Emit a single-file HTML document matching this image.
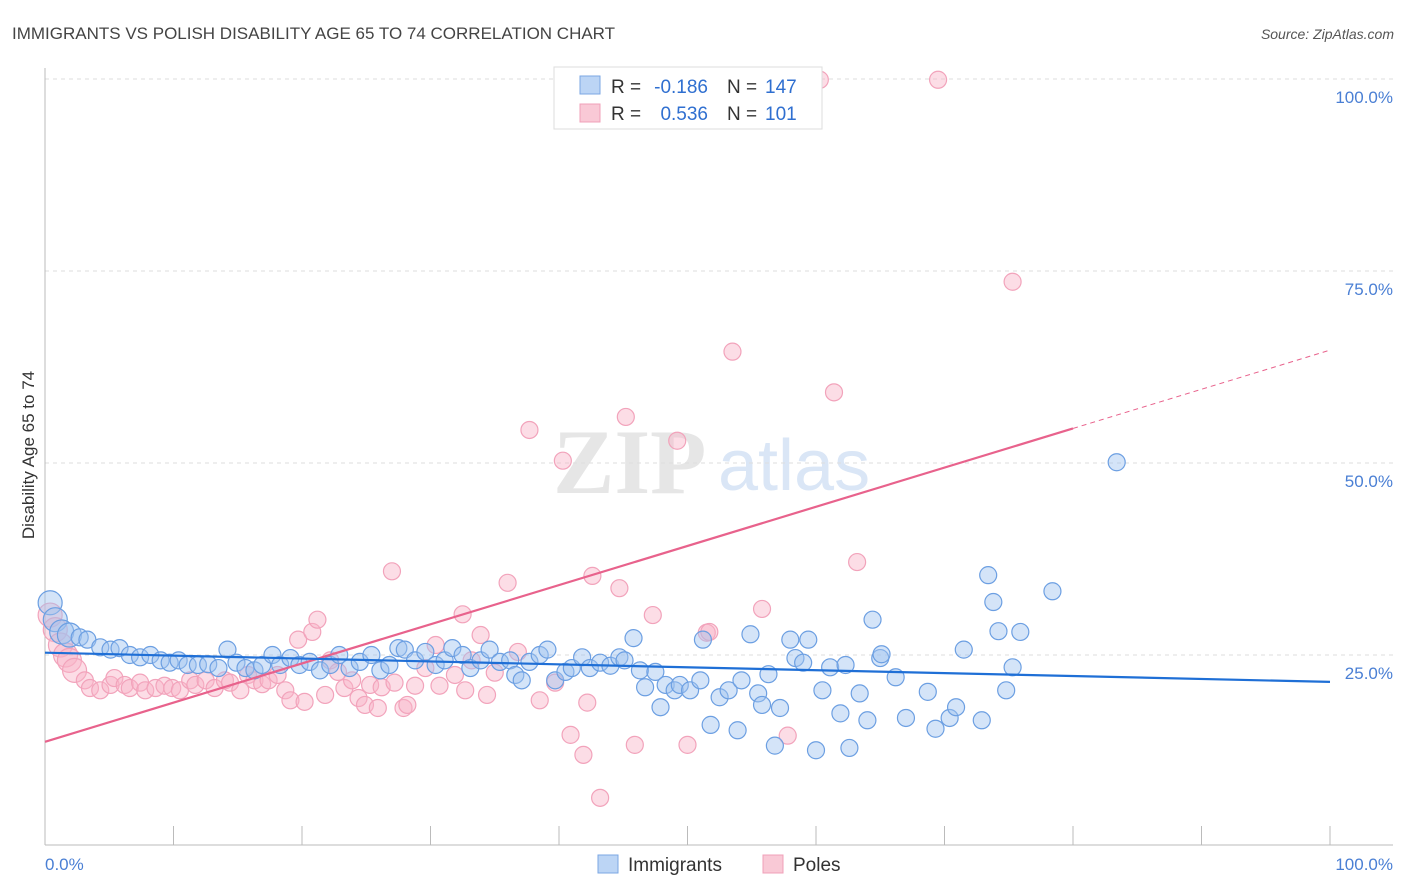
<!DOCTYPE html>
<html><head><meta charset="utf-8"><style>
body{margin:0;background:#fff;font-family:"Liberation Sans",sans-serif}
svg{display:block}
</style></head><body>
<svg id="chart" width="1406" height="892" xmlns="http://www.w3.org/2000/svg">
<text x="12" y="39" font-size="17" fill="#444">IMMIGRANTS VS POLISH DISABILITY AGE 65 TO 74 CORRELATION CHART</text>
<text x="1394" y="39" font-size="14" fill="#555" font-style="italic" text-anchor="end">Source: ZipAtlas.com</text>
<g>
<text x="553" y="493" font-size="92" fill="#e6e6e6" font-family="Liberation Serif,serif" font-weight="bold">ZIP</text>
<text x="718" y="490" font-size="72" fill="#dae6f6">atlas</text>
</g>
<g id="grid"></g>
<g id="axes"></g>
<g id="marks"></g>
<text transform="translate(34,455) rotate(-90)" font-size="17" fill="#333" text-anchor="middle">Disability Age 65 to 74</text>
<text x="45" y="870" font-size="17" fill="#4a7fd4">0.0%</text>
<text x="1393" y="870" font-size="17" fill="#4a7fd4" text-anchor="end">100.0%</text>
<g>
<rect x="554" y="67" width="268" height="62" fill="#fff" stroke="#ddd"/>
<rect x="580" y="76" width="20" height="18" fill="#bcd5f5" stroke="#7ba7e3"/>
<rect x="580" y="104" width="20" height="18" fill="#f9c9d6" stroke="#f0a0b8"/>
<text x="611" y="93" font-size="19" fill="#333">R =</text>
<text x="708" y="93" font-size="19" fill="#2f6fd0" text-anchor="end">-0.186</text>
<text x="727" y="93" font-size="19" fill="#333">N =</text>
<text x="765" y="93" font-size="19" fill="#2f6fd0">147</text>
<text x="611" y="120" font-size="19" fill="#333">R =</text>
<text x="708" y="120" font-size="19" fill="#2f6fd0" text-anchor="end">0.536</text>
<text x="727" y="120" font-size="19" fill="#333">N =</text>
<text x="765" y="120" font-size="19" fill="#2f6fd0">101</text>
</g>
<g>
<rect x="598" y="855" width="20" height="18" fill="#bcd5f5" stroke="#7ba7e3"/>
<text x="628" y="871" font-size="19" fill="#333">Immigrants</text>
<rect x="763" y="855" width="20" height="18" fill="#f9c9d6" stroke="#f0a0b8"/>
<text x="793" y="871" font-size="19" fill="#333">Poles</text>
</g>
</svg>
<script>
const yTicks=[25,50,75,100];
const yTickLabels=["25.0%","50.0%","75.0%","100.0%"];
const xTicks=[0,10,20,30,40,50,60,70,80,90,100];
const blueTrend=[25.3,21.5];
const pinkTrend=[13.7,64.7];
const pinkSolidEnd=80;
const immigrants=[[0.4,31.8],[0.8,29.6],[1.3,28],[1.9,27.6],[2.7,27.3],[3.3,27],[4.3,26],[5.1,25.7],[5.8,25.9],[6.6,25],[7.4,24.7],[8.2,25],[9,24.3],[9.7,24],[10.4,24.3],[11.1,23.7],[11.9,23.7],[12.7,23.8],[13.5,23.3],[14.2,25.7],[14.9,24],[15.6,23.3],[16.3,23],[16.9,23.7],[17.7,25],[18.3,23.7],[19.1,24.6],[19.8,23.7],[20.6,24.1],[21.4,23],[22.2,23.7],[22.9,25],[23.7,23.3],[24.5,24.1],[25.4,25],[26.1,23],[26.8,23.7],[27.5,25.9],[28,25.7],[28.8,24.3],[29.6,25.4],[30.4,23.7],[31.1,24.3],[31.7,25.9],[32.5,25],[33.1,23.3],[33.9,24.3],[34.6,25.7],[35.4,24.1],[36.2,24.3],[36.6,22.4],[37.1,21.7],[37.7,24.1],[38.5,25],[39.1,25.7],[39.7,21.7],[40.5,22.8],[41,23.3],[41.8,24.7],[42.4,23.3],[43.2,24],[44,23.6],[44.7,24.7],[45.1,24.3],[45.8,27.2],[46.3,23],[46.7,20.8],[47.5,22.8],[47.9,18.2],[48.3,21.1],[49,20.4],[49.4,21.1],[50.2,20.4],[51,21.7],[51.2,27],[51.8,15.9],[52.5,19.5],[53.2,20.4],[53.9,15.2],[54.2,21.7],[54.9,27.7],[55.5,20],[55.8,18.5],[56.3,22.5],[56.8,13.2],[57.2,18.1],[58,27],[58.4,24.6],[59,24],[59.4,27],[60,12.6],[60.5,20.4],[61.1,23.4],[61.9,17.4],[62.3,23.7],[62.6,12.9],[63.4,20],[64,16.5],[64.4,29.6],[65,24.6],[65.1,25.1],[66.2,22.1],[67,16.8],[68.7,20.2],[69.3,15.4],[70.4,16.8],[70.9,18.2],[71.5,25.7],[72.9,16.5],[73.4,35.4],[73.8,31.9],[74.2,28.1],[74.8,20.4],[75.3,23.4],[75.9,28],[78.4,33.3],[83.4,50.1]];
const poles=[[0.4,30.2],[0.8,28.3],[1.2,26.3],[1.6,25],[1.9,24.3],[2.3,23],[3.1,21.7],[3.5,20.7],[4.3,20.4],[5.1,21.1],[5.4,22],[6.2,21.1],[6.6,20.7],[7.4,21.4],[7.8,20.4],[8.6,20.7],[9.3,21],[9.9,20.7],[10.5,20.4],[11.3,21.7],[11.7,21.1],[12.5,21.7],[13.2,20.7],[14,21.7],[14.4,21.4],[15.2,20.4],[15.8,22.4],[16.3,21.7],[16.9,21.2],[17.4,21.7],[18.1,22.4],[18.7,20.4],[19.1,19.1],[19.7,27],[20.2,18.9],[20.8,28],[21.2,29.6],[21.8,19.8],[22.2,24.3],[22.8,22.8],[23.3,20.7],[23.9,21.7],[24.4,19.4],[24.9,18.5],[25.3,21.1],[25.9,18.1],[26.2,20.8],[27,35.9],[27.2,21.4],[27.9,18.1],[28.2,18.5],[28.8,21],[29.6,23.3],[30.4,26.3],[30.7,21],[31.9,22.4],[32.5,30.3],[32.7,20.4],[33.2,24.3],[33.9,27.6],[34.4,19.8],[35,22.7],[36,34.4],[36.8,25.4],[37.7,54.3],[38.5,19.1],[39.7,21.4],[40.3,50.3],[40.9,14.6],[41.9,12],[42.2,18.8],[42.6,35.3],[43.2,6.4],[44.7,33.7],[45.2,56],[45.9,13.3],[47.3,30.2],[49.2,52.9],[50,13.3],[51.5,27.9],[51.7,28],[52.3,99.9],[53.5,64.5],[57.8,14.5],[55.8,31],[60.3,99.9],[61.4,59.2],[63.2,37.1],[69.5,99.9],[75.3,73.6]];
const NS="http://www.w3.org/2000/svg";
const X=v=>45+v*12.85;
const Y=v=>847-v*7.68;
function mk(tag,attrs,parent){const e=document.createElementNS(NS,tag);for(const k in attrs)e.setAttribute(k,attrs[k]);parent.appendChild(e);return e;}
const grid=document.getElementById('grid'),axes=document.getElementById('axes'),marks=document.getElementById('marks');
yTicks.forEach((t,i)=>{
 const l=mk('line',{x1:45,x2:1393,y1:Y(t),y2:Y(t),stroke:'#ddd','stroke-dasharray':'4,4'},grid);
 
 
 const tx=mk('text',{x:1393,y:Y(t)+24,'font-size':17,fill:'#4a7fd4','text-anchor':'end'},grid);
 tx.textContent=yTickLabels[i];
 
 
});
const ya=mk('line',{x1:45,x2:45,y1:68,y2:845,stroke:'#bbb'},axes);


const xa=mk('line',{x1:45,x2:1393,y1:845,y2:845,stroke:'#bbb'},axes);


xTicks.forEach(t=>{
 const l=mk('line',{x1:X(t),x2:X(t),y1:826,y2:845,stroke:'#bbb'},axes);
 
 
});
function dots(data,fill,stroke,name){
 data.forEach(d=>{
  const c=mk('circle',{cx:X(d[0]),cy:Y(d[1]),r:d[0]<2.5?12:8.5,fill:fill,stroke:stroke,'stroke-width':1.2},marks);
  
  
 });
}
dots(poles,'rgba(248,180,200,0.45)','#f2a3bb','poles-point');
dots(immigrants,'rgba(160,196,240,0.45)','#6c9fe2','immigrants-point');
const pe=pinkTrend[0]+(pinkTrend[1]-pinkTrend[0])*pinkSolidEnd/100;
const p1=mk('line',{x1:X(0),y1:Y(pinkTrend[0]),x2:X(pinkSolidEnd),y2:Y(pe),stroke:'#e8628c','stroke-width':2.2},marks);


const p2=mk('line',{x1:X(pinkSolidEnd),y1:Y(pe),x2:X(100),y2:Y(pinkTrend[1]),stroke:'#e8628c','stroke-width':1,'stroke-dasharray':'5,4'},marks);


const b1=mk('line',{x1:X(0),y1:Y(blueTrend[0]),x2:X(100),y2:Y(blueTrend[1]),stroke:'#1f6fd6','stroke-width':2.2},marks);


</script>
</body></html>
